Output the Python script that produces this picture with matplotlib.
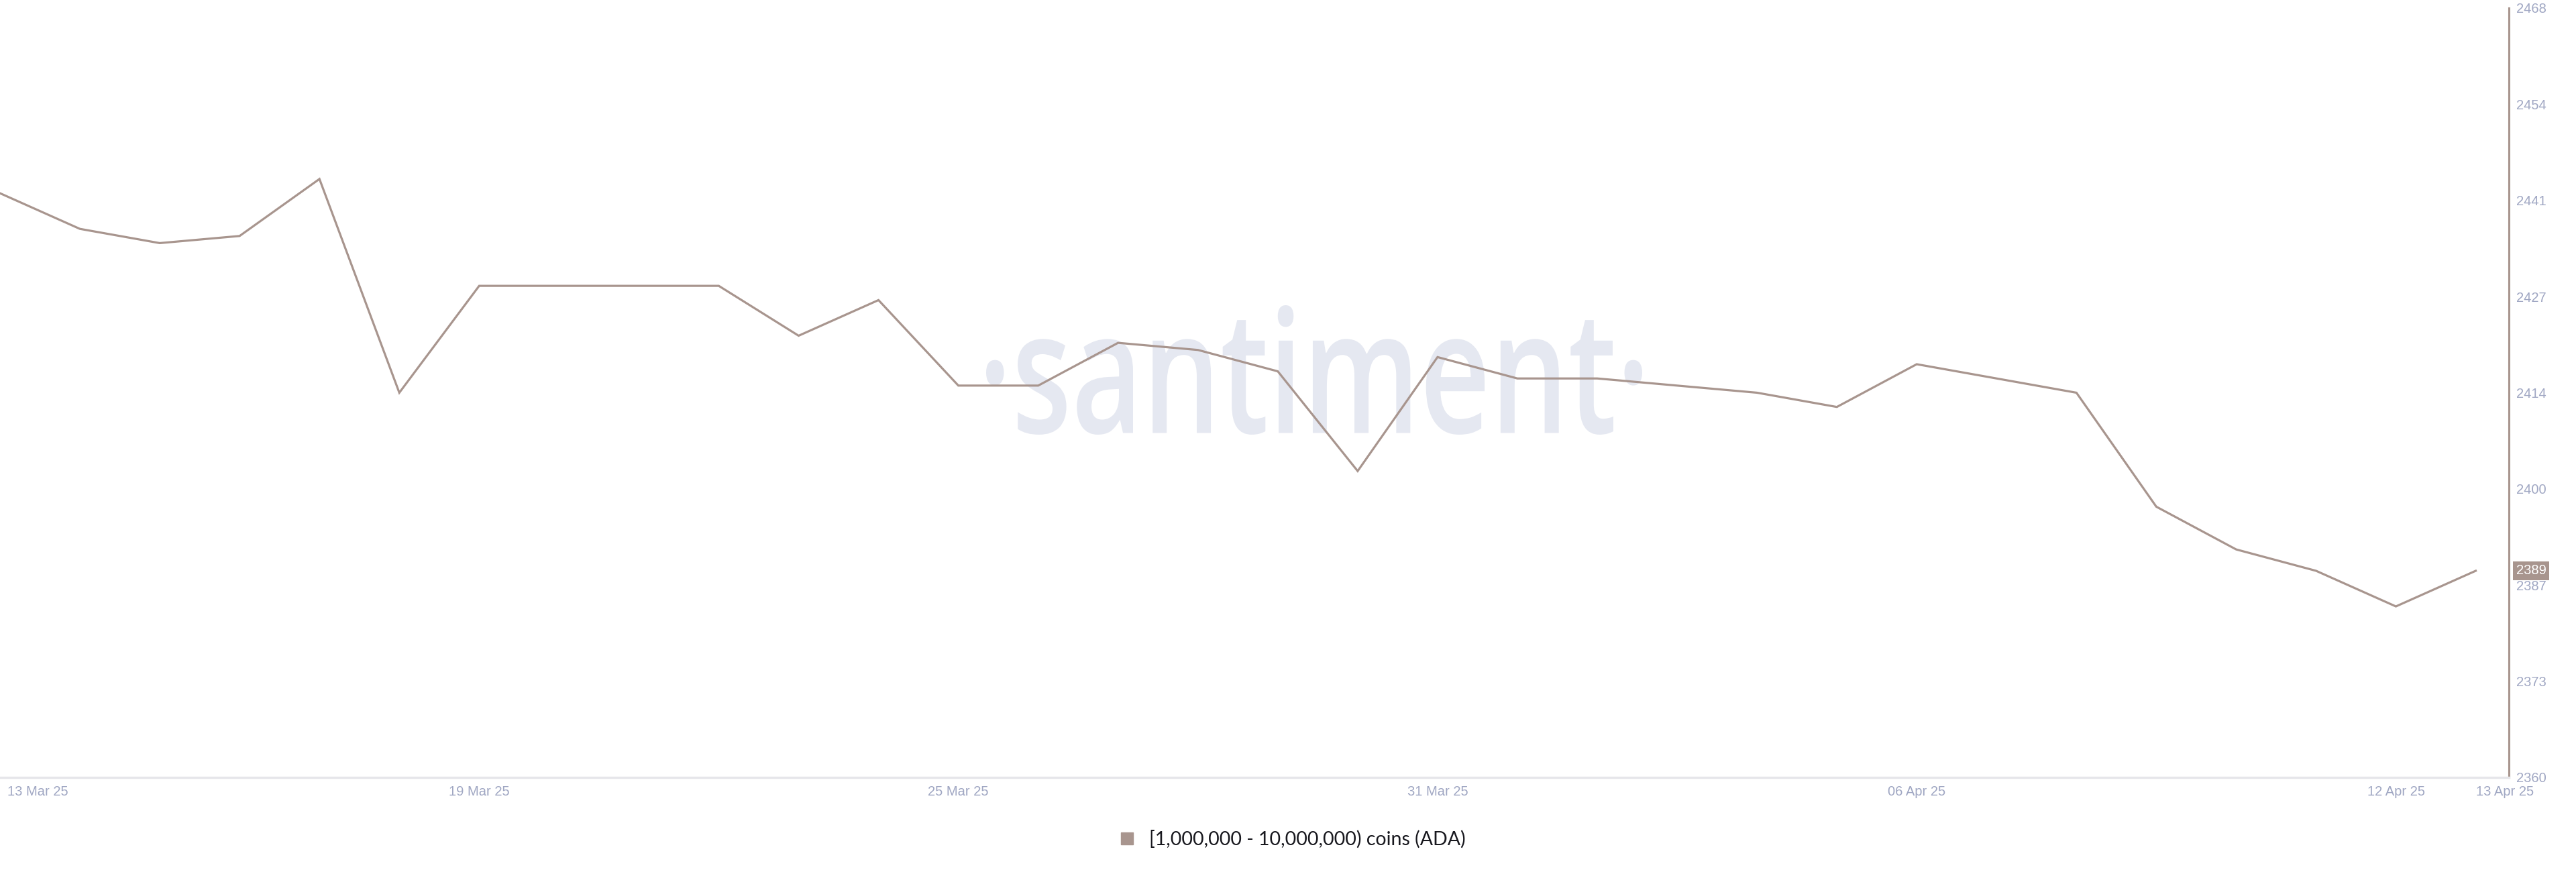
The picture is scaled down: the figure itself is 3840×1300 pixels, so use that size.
import numpy as np
import matplotlib
matplotlib.use("Agg")
import matplotlib.pyplot as plt
from matplotlib.textpath import TextPath
from matplotlib.patches import PathPatch
from matplotlib.font_manager import FontProperties
from matplotlib.transforms import Affine2D, ScaledTranslation, blended_transform_factory
from matplotlib.lines import Line2D

# daily holders count, 13 Mar 25 -> 13 Apr 25
dates = np.arange('2025-03-13', '2025-04-14', dtype='datetime64[D]')
holders = [2442, 2437, 2435, 2436, 2444, 2414, 2429, 2429, 2429, 2429,
           2422, 2427, 2415, 2415, 2421, 2420, 2417, 2403, 2419, 2416,
           2416, 2415, 2414, 2412, 2418, 2416, 2414, 2398, 2392, 2389,
           2384, 2389]
series_name = "[1,000,000 - 10,000,000) coins (ADA)"

x_ticks = np.array(['2025-03-13', '2025-03-19', '2025-03-25', '2025-03-31',
                    '2025-04-06', '2025-04-12', '2025-04-13'], dtype='datetime64[D]')
x_labels = ['13 Mar 25', '19 Mar 25', '25 Mar 25', '31 Mar 25',
            '06 Apr 25', '12 Apr 25', '13 Apr 25']
y_min, y_max = 2360, 2468
y_ticks = np.linspace(y_min, y_max, 9)

line_color = '#a8958e'
label_color = '#a0a7c3'
font = 'Liberation Sans'

fig = plt.figure(figsize=(38.4, 13), dpi=100)
fig.patch.set_facecolor('white')
ax = fig.add_axes([0.0, 0.1085, 0.974, 0.8823])

ax.plot(dates, holders, color=line_color, lw=2.3, zorder=3, solid_joinstyle='miter')

ax.set_ylim(y_min, y_max)
ax.set_xlim(dates[0], dates[-1] + np.timedelta64(10, 'h'))

ax.yaxis.tick_right()
ax.set_yticks(y_ticks)
ax.set_yticklabels([str(int(v)) for v in y_ticks])
ax.set_xticks(x_ticks)
ax.set_xticklabels(x_labels)
ax.tick_params(axis='both', length=0, labelsize=14.5, labelcolor=label_color)
ax.tick_params(axis='y', pad=8)
ax.tick_params(axis='x', pad=9)
for lab in ax.get_xticklabels() + ax.get_yticklabels():
    lab.set_fontfamily(font)
xl = ax.get_xticklabels()
xl[0].set_ha('left')
xl[0].set_transform(xl[0].get_transform() + ScaledTranslation(0.11, 0, fig.dpi_scale_trans))
xl[-1].set_ha('left')

for s in ['top', 'left']:
    ax.spines[s].set_visible(False)
ax.spines['right'].set_color(line_color)
ax.spines['right'].set_linewidth(2.2)
ax.spines['bottom'].set_color('#e6e6ea')
ax.spines['bottom'].set_linewidth(2.5)

# last value badge
tr = blended_transform_factory(ax.transAxes, ax.transData)
ax.text(1.0028, holders[-1], str(holders[-1]), transform=tr, ha='left', va='center',
        fontsize=14.5, family=font, color='white', zorder=10, clip_on=False,
        bbox=dict(facecolor=line_color, edgecolor='none', boxstyle='square,pad=0.22'))

# watermark
tp = TextPath((0, 0), '\u00b7santiment\u00b7', size=1,
              prop=FontProperties(family='Open Sans', weight='semibold'))
ext = tp.get_extents()
x0, x1 = 1470 / 3840, 2448 / 3840
y0, y1 = 1 - 648 / 1300, 1 - 455 / 1300
wm = Affine2D().translate(-ext.x0, -ext.y0).scale((x1 - x0) / ext.width, (y1 - y0) / ext.height).translate(x0, y0)
patch = PathPatch(wm.transform_path(tp), facecolor='#e5e8f1', edgecolor='none',
                  transform=fig.transFigure, zorder=1, clip_on=False)
ax.add_patch(patch)

handle = Line2D([], [], marker='s', ls='none', color=line_color, markersize=13)
fig.legend(handles=[handle], labels=[series_name], loc='center', bbox_to_anchor=(0.4995, 0.0377),
           frameon=False, prop=FontProperties(family='Lato', size=20.5), handletextpad=0.15,
           labelcolor='#18181e')

fig.savefig('out.png', dpi=100, facecolor='white')
